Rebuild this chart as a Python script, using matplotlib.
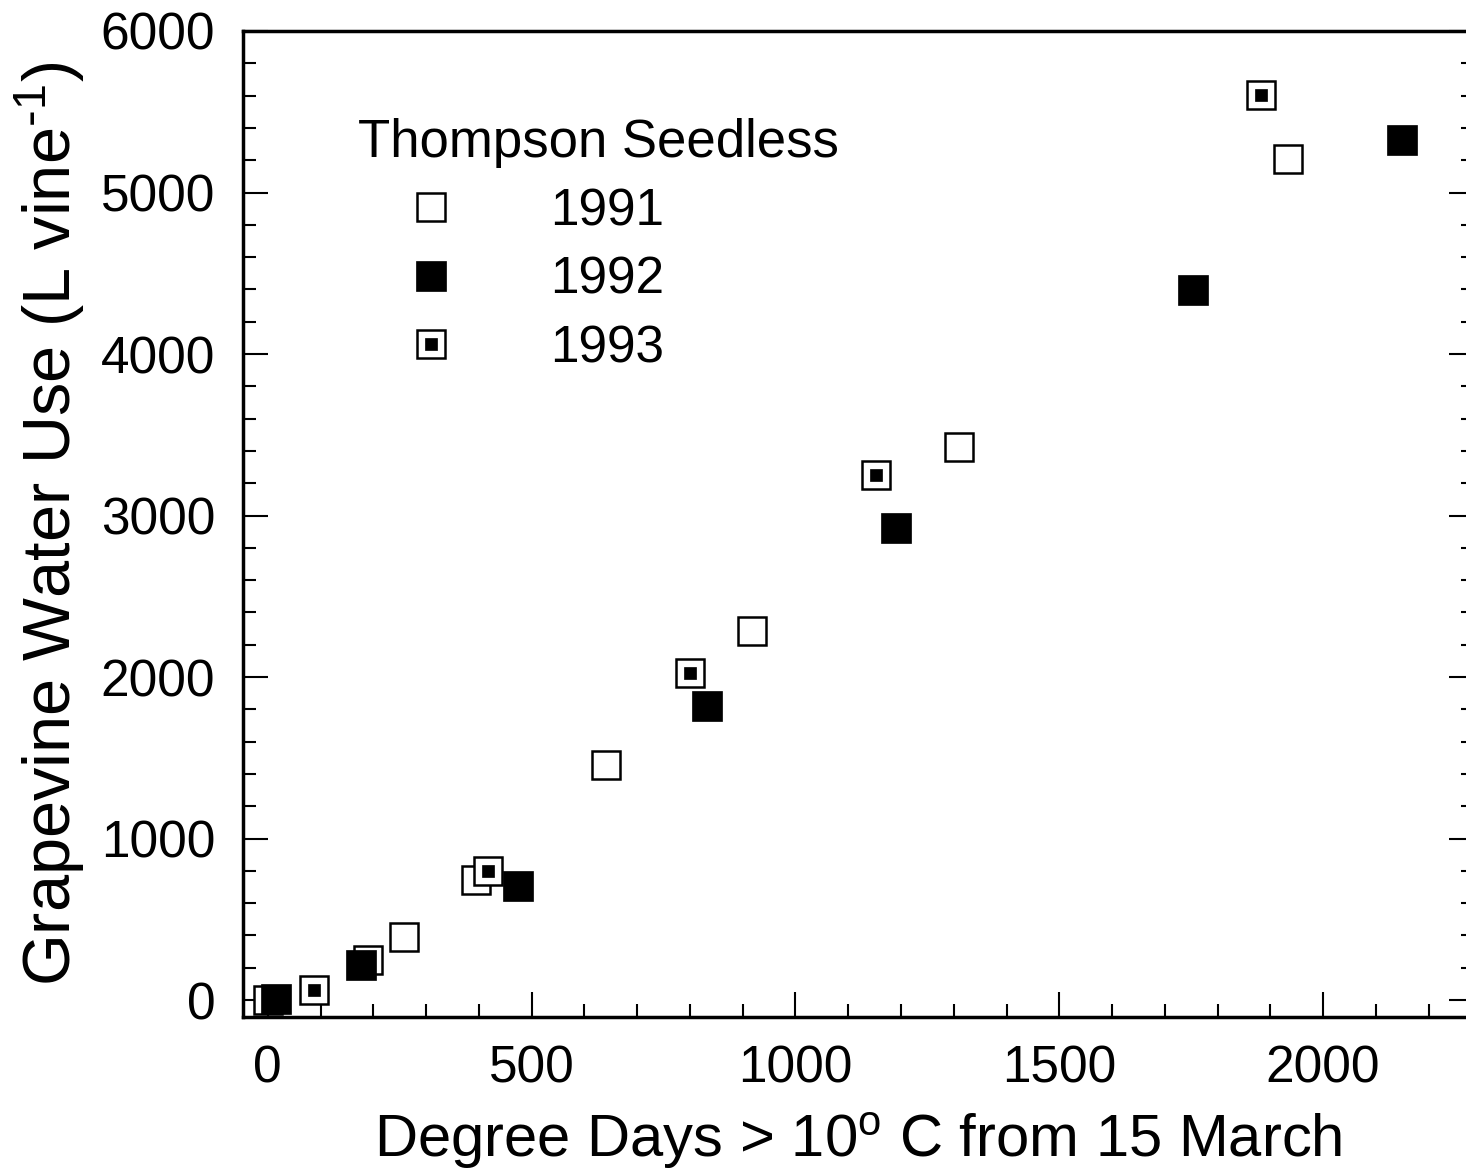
import matplotlib
matplotlib.use("Agg")
import matplotlib.pyplot as plt
from matplotlib.ticker import MultipleLocator

plt.rcParams['font.family'] = ['Liberation Sans', 'DejaVu Sans']
plt.rcParams['mathtext.default'] = 'regular'

# Thompson Seedless water use vs degree days
dd_1991 = [0, 190, 259, 395, 641, 918, 1310, 1934]
wu_1991 = [0, 250, 390, 743, 1455, 2285, 3424, 5207]

dd_1992 = [15, 176, 474, 832, 1190, 1754, 2150]
wu_1992 = [5, 217, 706, 1820, 2923, 4399, 5328]

dd_1993 = [88, 418, 800, 1153, 1883]
wu_1993 = [65, 799, 2025, 3251, 5604]

fig = plt.figure(figsize=(14.66, 11.75), dpi=100)
ax = fig.add_axes([0.16576, 0.13447, 0.83970, 0.83915])

ms = 20
l91, = ax.plot(dd_1991, wu_1991, 's', ms=ms, mfc='white', mec='black', mew=1.8,
               ls='none', zorder=3)
l93a, = ax.plot(dd_1993, wu_1993, 's', ms=ms, mfc='white', mec='black', mew=1.8,
                ls='none', zorder=4)
l93b, = ax.plot(dd_1993, wu_1993, 's', ms=8, mfc='black', mec='black', mew=0.5,
                ls='none', zorder=4)
l92, = ax.plot(dd_1992, wu_1992, 's', ms=ms + 1.5, mfc='black', mec='black', mew=0.5,
               ls='none', zorder=5)

ax.set_xlim(-47, 2286)
ax.set_ylim(-105, 6000)

ax.xaxis.set_major_locator(MultipleLocator(500))
ax.xaxis.set_minor_locator(MultipleLocator(100))
ax.yaxis.set_major_locator(MultipleLocator(1000))
ax.yaxis.set_minor_locator(MultipleLocator(200))

ax.tick_params(which='both', direction='in', left=True, right=True,
               bottom=True, top=False, width=1.5, labelsize=37, pad=20)
ax.tick_params(which='major', length=18)
ax.tick_params(which='minor', length=9.4)
for s in ax.spines.values():
    s.set_linewidth(2.5)

ax.set_xlabel('Degree Days > 10$^{o}$ C from 15 March', fontsize=43, labelpad=12)
ax.set_ylabel('Grapevine Water Use (L vine$^{\\text{-}1}$)', fontsize=48, labelpad=10)

leg = ax.legend([l91, l92, (l93a, l93b)], ['1991', '1992', '1993'],
                title='Thompson Seedless', title_fontsize=38, fontsize=37,
                loc='upper left', bbox_to_anchor=(0.0932, 0.912),
                frameon=False, borderpad=0, borderaxespad=0,
                handlelength=2.84, handletextpad=0.9, labelspacing=0.38,
                alignment='left')

fig.savefig('out.png', dpi=100)
